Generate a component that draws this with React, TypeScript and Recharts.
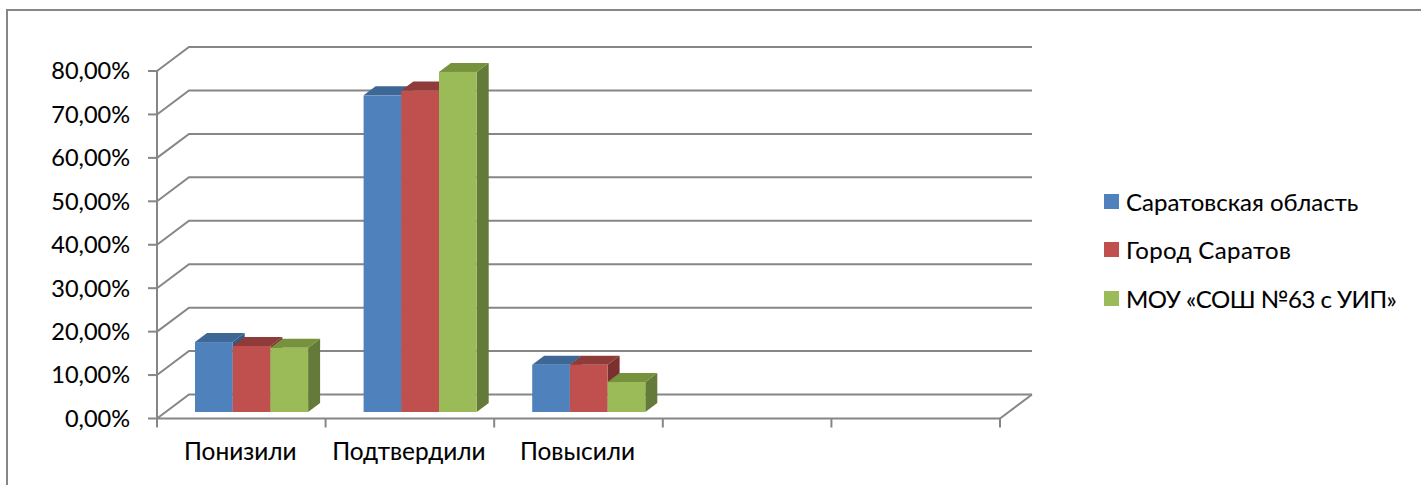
import { BarChart, Bar, XAxis, YAxis, CartesianGrid, Legend } from 'recharts';

const categories = ['Понизили', 'Подтвердили', 'Повысили', '', ''];
const saratovRegion = [16.1, 72.9, 10.9, null, null];
const saratovCity = [15.2, 74, 10.9, null, null];
const school = [14.8, 78.3, 6.9, null, null];
const yTicks = [0, 10, 20, 30, 40, 50, 60, 70, 80];

const chartData = categories.map((name, i) => ({
  name,
  region: saratovRegion[i],
  city: saratovCity[i],
  school: school[i],
}));

const FONT = 'Lato, "Open Sans", sans-serif';
const AXIS = '#868686';
const PLOT_LEFT = 157;
const PLOT_RIGHT = 1000;
const STEP = (PLOT_RIGHT - PLOT_LEFT) / categories.length;
// 3d wall depth and how far bars sit from the front edge
const WALL_DX = 32;
const WALL_DY = 24;
const BAR_DX = 10;
const BAR_DY = 6.5;
const BAR_DEPTH_X = 12;
const BAR_DEPTH_Y = 9;
// Lato runs a little wider or narrower than the reference font on these labels
const LEGEND_SPACING = [0, 0.4, -0.5];

function Box(props: any) {
  const { x, y, width, height, fill, topFill, sideFill } = props;
  if (!height || height <= 0) return null;
  const l = x + BAR_DX;
  const r = l + width;
  const t = y - BAR_DY;
  const b = t + height;
  const dx = BAR_DEPTH_X;
  const dy = BAR_DEPTH_Y;
  return (
    <g>
      <path d={`M${r},${t} L${r + dx},${t - dy} L${r + dx},${b - dy} L${r},${b} Z`} fill={sideFill} />
      <path d={`M${l},${t} L${l + dx},${t - dy} L${r + dx},${t - dy} L${r},${t} Z`} fill={topFill} />
      <rect x={l} y={t} width={width} height={height} fill={fill} />
    </g>
  );
}

function WallLine(props: any) {
  const { x1, x2, y1, index } = props;
  const back = y1 - WALL_DY;
  return (
    <g key={`wall-${index}`}>
      <path
        d={`M${x1},${y1} L${x1 + WALL_DX},${back} L${x2 + WALL_DX},${back}`}
        fill="none"
        stroke={AXIS}
        strokeWidth={2}
      />
      {y1 > 400 && (
        <line x1={x2 + WALL_DX} y1={back} x2={x2} y2={y1} stroke={AXIS} strokeWidth={2} />
      )}
    </g>
  );
}

function CategoryTick(props: any) {
  const { x, y, payload, index } = props;
  const left = x - STEP / 2;
  return (
    <g>
      <line x1={left} y1={y} x2={left} y2={y + 9} stroke={AXIS} strokeWidth={2} />
      {index === categories.length - 1 && (
        <line x1={x + STEP / 2} y1={y} x2={x + STEP / 2} y2={y + 9} stroke={AXIS} strokeWidth={2} />
      )}
      <text x={x - 1} y={460} textAnchor="middle" fontFamily={FONT} fontSize={24.4} fill="#000" stroke="#000" strokeWidth={0.1}>
        {payload.value}
      </text>
    </g>
  );
}

function LegendBox({ payload }: any) {
  return (
    <div style={{ width: 317, fontFamily: FONT, fontSize: 24, color: '#000', WebkitTextStroke: '0.1px #000' }}>
      {(payload || []).map((p: any, i: number) => (
        <div key={p.value} style={{ display: 'flex', alignItems: 'center', height: 48.5 }}>
          <span style={{ width: 15, height: 15, background: p.color, marginRight: 7 }} />
          <span style={{ whiteSpace: 'nowrap', letterSpacing: LEGEND_SPACING[i] }}>{p.value}</span>
        </div>
      ))}
    </div>
  );
}

export default function App() {
  return (
    <div style={{ position: 'absolute', left: 0, top: 0, width: 1421, height: 485, background: '#fff', overflow: 'hidden' }}>
      <div
        style={{
          position: 'absolute',
          left: 6,
          top: 9,
          width: 1430,
          height: 490,
          border: `2px solid ${AXIS}`,
        }}
      />
      <BarChart
        width={1421}
        height={485}
        data={chartData}
        margin={{ top: 71, right: 104, bottom: 0, left: 0 }}
        barSize={37.7}
        barGap={0}
        style={{ position: 'absolute', left: 0, top: 0 }}
      >
        <CartesianGrid vertical={false} horizontal={WallLine} />
        <XAxis
          dataKey="name"
          interval={0}
          height={66.5}
          tickSize={0}
          tickMargin={0}
          tickLine={false}
          axisLine={{ stroke: AXIS, strokeWidth: 2 }}
          tick={CategoryTick}
        />
        <YAxis
          width={157}
          domain={[0, 80]}
          ticks={yTicks}
          interval={0}
          tickSize={9}
          tickMargin={18}
          tickFormatter={(v: number) => `${v.toFixed(2).replace('.', ',')}%`}
          tick={{ fontFamily: FONT, fontSize: 23.5, fill: '#000', stroke: '#000', strokeWidth: 0.1 }}
          tickLine={{ stroke: AXIS, strokeWidth: 2 }}
          axisLine={{ stroke: AXIS, strokeWidth: 2 }}
        />
        <Legend
          layout="vertical"
          align="right"
          verticalAlign="middle"
          itemSorter={null}
          content={LegendBox}
          wrapperStyle={{ left: 1104, top: 177, width: 317 }}
        />
        <Bar dataKey="region" name="Саратовская область" fill="#4F81BD" isAnimationActive={false}
          shape={(p: any) => <Box {...p} topFill="#3D6795" sideFill="#355A85" />} />
        <Bar dataKey="city" name="Город Саратов" fill="#C0504D" isAnimationActive={false}
          shape={(p: any) => <Box {...p} topFill="#8F3B39" sideFill="#7B2F2E" />} />
        <Bar dataKey="school" name="МОУ «СОШ №63 с УИП»" fill="#9BBB59" isAnimationActive={false}
          shape={(p: any) => <Box {...p} topFill="#76923C" sideFill="#647A38" />} />
      </BarChart>
    </div>
  );
}
